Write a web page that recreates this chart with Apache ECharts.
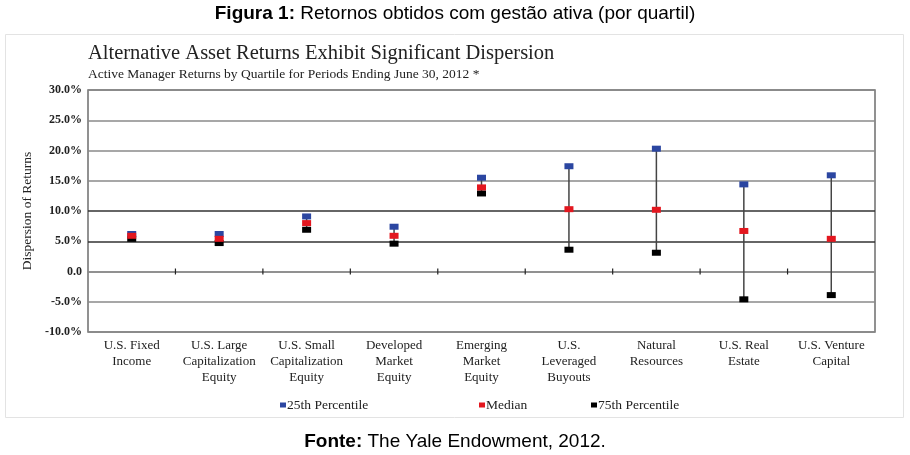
<!DOCTYPE html>
<html>
<head>
<meta charset="utf-8">
<script src="https://cdn.jsdelivr.net/npm/echarts@6/dist/echarts.min.js"></script>
<style>html,body{margin:0;padding:0;background:#fff}#c{width:910px;height:455px}</style>
</head>
<body>
<div id="c"></div>
<script>
const categories = ['U.S. Fixed\nIncome','U.S. Large\nCapitalization\nEquity','U.S. Small\nCapitalization\nEquity','Developed\nMarket\nEquity','Emerging\nMarket\nEquity','U.S.\nLeveraged\nBuyouts','Natural\nResources','U.S. Real\nEstate','U.S. Venture\nCapital'];
const p25 = [6.2, 6.2, 9.1, 7.4, 15.5, 17.4, 20.3, 14.4, 15.9];
const median = [5.9, 5.4, 8.0, 5.9, 13.9, 10.3, 10.2, 6.7, 5.4];
const p75 = [5.4, 4.7, 6.9, 4.6, 12.9, 3.6, 3.1, -4.6, -3.9];
const yTicks = [-10, -5, 0, 5, 10, 15, 20, 25, 30];

const serif = '"Liberation Serif", "DejaVu Serif", serif';
const sans = '"Liberation Sans", Arial, sans-serif';
const BLUE = '#2b46a1', RED = '#e3171f', BLACK = '#000000';

const chart = echarts.init(document.getElementById('c'), null, {renderer: 'canvas'});

const splitColors = yTicks.map(v => (v === 5 || v === 10) ? '#333333' : '#8a8a8a');

const option = {
  backgroundColor: '#ffffff',
  animation: false,
  graphic: [{
    type: 'rect', left: 5, top: 34, silent: true, z: -10,
    shape: {width: 898, height: 383},
    style: {fill: '#ffffff', stroke: '#e3e3e3', lineWidth: 1}
  }],
  title: [
    {
      text: '{b|Figura 1:}{n| Retornos obtidos com gestão ativa (por quartil)}',
      left: 'center', top: 4, padding: 0,
      textStyle: {fontWeight: 'normal', rich: {
        b: {fontFamily: sans, fontSize: 19, fontWeight: 'bold', color: '#000'},
        n: {fontFamily: sans, fontSize: 19, fontWeight: 'normal', color: '#000'}
      }}
    },
    {
      text: 'Alternative Asset Returns Exhibit Significant Dispersion',
      left: 88, top: 43, padding: 0,
      textStyle: {fontFamily: serif, fontSize: 20.5, fontWeight: 'normal', color: '#222'}
    },
    {
      text: 'Active Manager Returns by Quartile for Periods Ending June 30, 2012 *',
      left: 88, top: 67, padding: 0,
      textStyle: {fontFamily: serif, fontSize: 13.5, fontWeight: 'normal', color: '#222'}
    },
    {
      text: '{b|Fonte:}{n| The Yale Endowment, 2012.}',
      left: 'center', top: 432, padding: 0,
      textStyle: {fontWeight: 'normal', rich: {
        b: {fontFamily: sans, fontSize: 19, fontWeight: 'bold', color: '#000'},
        n: {fontFamily: sans, fontSize: 19, fontWeight: 'normal', color: '#000'}
      }}
    }
  ],
  legend: [
    {data: ['25th Percentile'], left: 280, top: 398},
    {data: ['Median'], left: 479, top: 398},
    {data: ['75th Percentile'], left: 591, top: 398}
  ].map(l => Object.assign(l, {
    icon: 'rect', itemWidth: 6, itemHeight: 5, itemGap: 0,
    textStyle: {fontFamily: serif, fontSize: 13.5, color: '#222', padding: [0, 0, 0, -4]},
    padding: 0
  })),
  grid: {
    left: 88, right: 35, top: 90, bottom: 123,
    show: true, borderColor: '#6e6e6e', borderWidth: 1.5, backgroundColor: 'transparent'
  },
  xAxis: [
    {
      type: 'category', data: categories, boundaryGap: true, position: 'bottom',
      axisLine: {onZero: true, lineStyle: {color: '#8a8a8a', width: 1.5}},
      axisTick: {show: false},
      axisLabel: {show: false},
      splitLine: {show: false}
    },
    {
      type: 'category', data: categories, boundaryGap: true, position: 'bottom',
      axisLine: {show: false, onZero: false},
      axisTick: {show: false},
      axisLabel: {fontFamily: serif, fontSize: 13, color: '#222', lineHeight: 16, margin: 6, interval: 0},
      splitLine: {show: false}
    }
  ],
  yAxis: {
    type: 'value', min: -10, max: 30, interval: 5,
    name: 'Dispersion of Returns', nameLocation: 'middle', nameGap: 48, nameRotate: 90,
    nameTextStyle: {fontFamily: serif, fontSize: 13.5, color: '#222'},
    axisLine: {show: false},
    axisTick: {show: false},
    axisLabel: {
      fontFamily: serif, fontSize: 12, color: '#222', margin: 6, fontWeight: 'bold',
      formatter: v => v === 0 ? '0.0' : v.toFixed(1) + '%'
    },
    splitLine: {show: true, lineStyle: {color: splitColors, width: 1.5}}
  },
  series: [
    {
      name: 'range', type: 'custom', xAxisIndex: 0, z: 2, silent: true,
      data: categories.map((c, i) => [i, p25[i], p75[i]]),
      renderItem: function (params, api) {
        const top = api.coord([api.value(0), api.value(1)]);
        const bot = api.coord([api.value(0), api.value(2)]);
        return {type: 'line', shape: {x1: top[0], y1: top[1], x2: bot[0], y2: bot[1]},
          style: {stroke: '#444', lineWidth: 1.5}};
      }
    },
    {
      name: 'ticks', type: 'custom', xAxisIndex: 0, z: 2, silent: true,
      data: categories.slice(1).map((c, i) => [i + 1, 0]),
      renderItem: function (params, api) {
        const p = api.coord([api.value(0), api.value(1)]);
        const half = api.size([1, 0])[0] / 2;
        const x = p[0] - half;
        return {type: 'line', shape: {x1: x, y1: p[1] - 3, x2: x, y2: p[1] + 3},
          style: {stroke: '#222', lineWidth: 1.2}};
      }
    },
    {
      name: '75th Percentile', type: 'scatter', xAxisIndex: 0, z: 3,
      symbol: 'rect', symbolSize: [9, 6], itemStyle: {color: BLACK, opacity: 1},
      data: p75
    },
    {
      name: 'Median', type: 'scatter', xAxisIndex: 0, z: 4,
      symbol: 'rect', symbolSize: [9, 6], itemStyle: {color: RED, opacity: 1},
      data: median
    },
    {
      name: '25th Percentile', type: 'scatter', xAxisIndex: 0, z: 3,
      symbol: 'rect', symbolSize: [9, 6], itemStyle: {color: BLUE, opacity: 1},
      data: p25
    }
  ]
};
chart.setOption(option);
</script>
</body>
</html>
